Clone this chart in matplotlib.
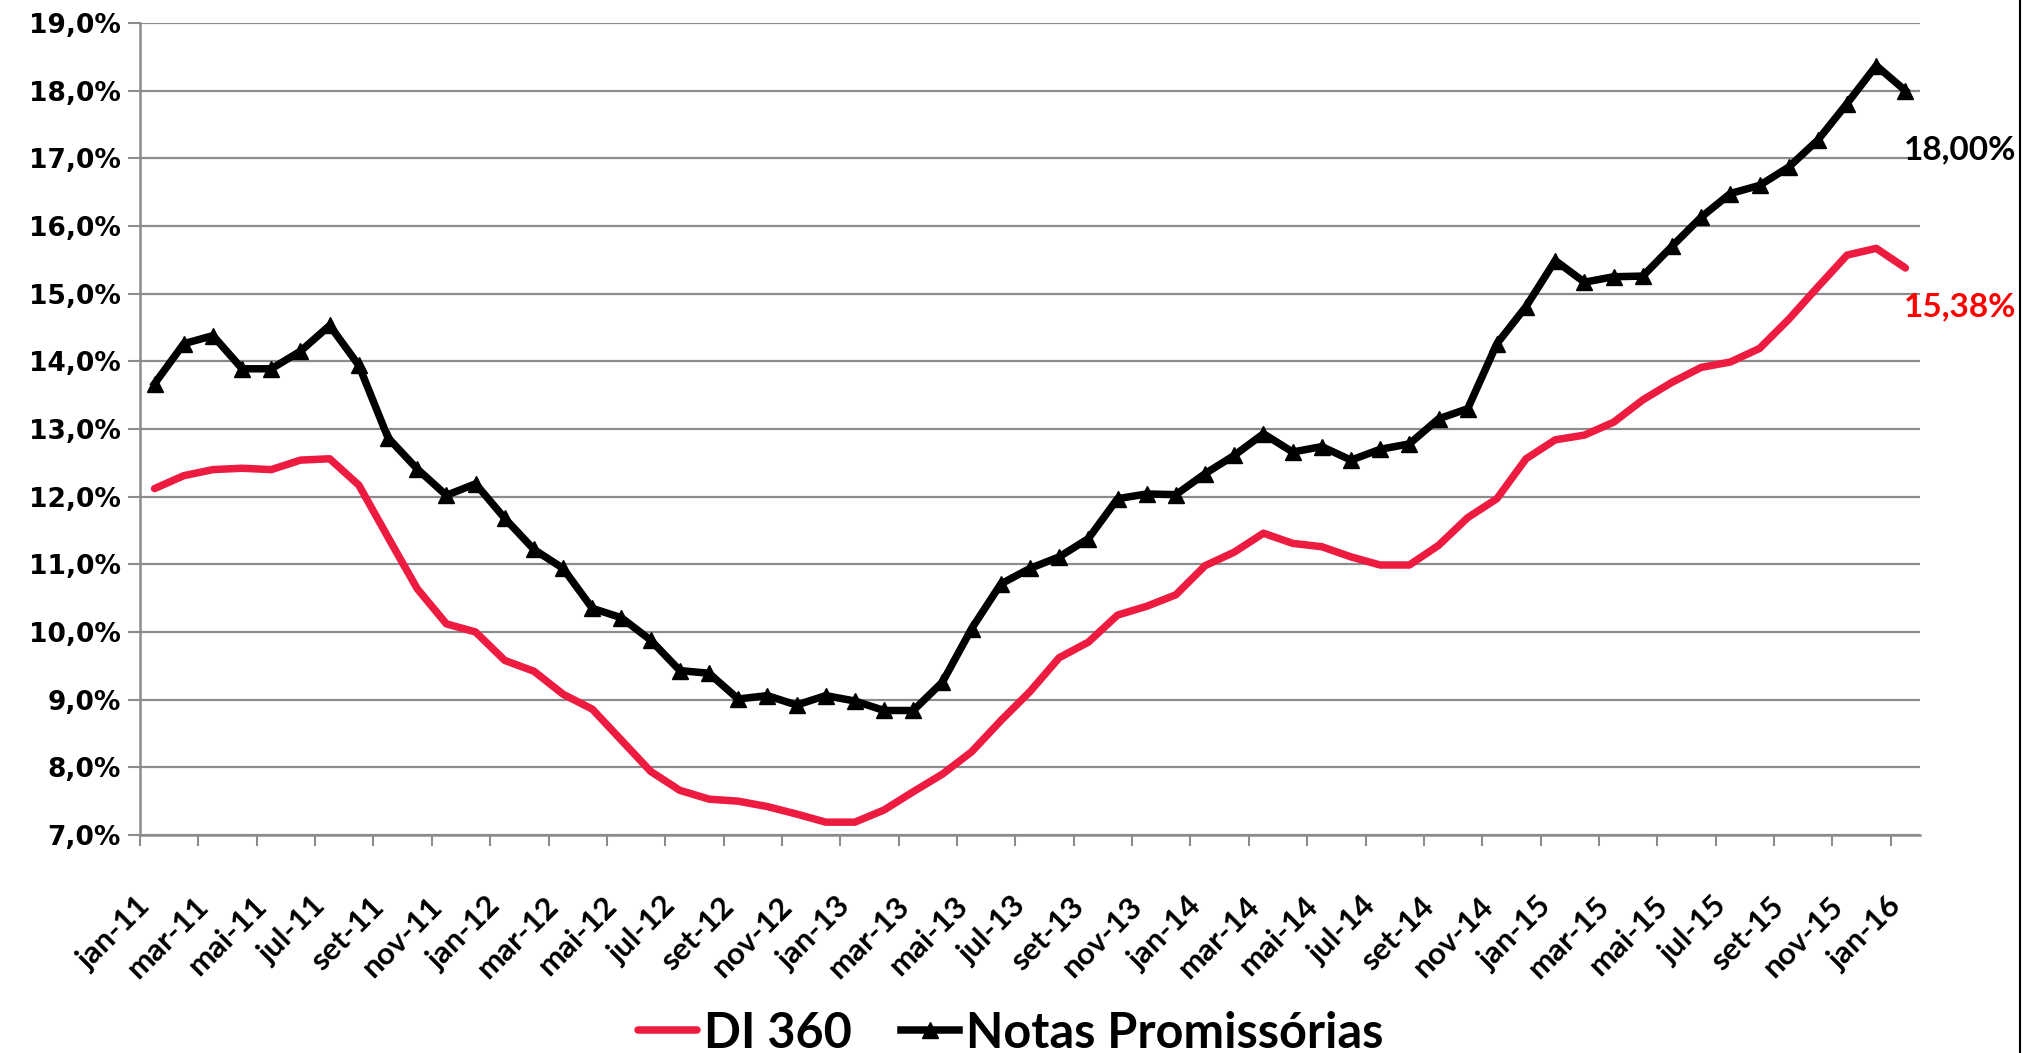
import numpy as np
import matplotlib
matplotlib.use("Agg")
import matplotlib.pyplot as plt
from matplotlib.lines import Line2D
from matplotlib.ticker import FixedLocator, FuncFormatter
from matplotlib.transforms import ScaledTranslation

# ---- data ----
month_abbr = ["jan", "fev", "mar", "abr", "mai", "jun", "jul", "ago", "set", "out", "nov", "dez"]
years = ["11", "12", "13", "14", "15", "16"]
categories = [f"{m}-{y}" for y in years for m in month_abbr][:61]   # jan-11 .. jan-16

di360 = [12.12, 12.31, 12.40, 12.42, 12.40, 12.54, 12.56, 12.17, 11.40, 10.64,
         10.12, 10.00, 9.58, 9.42, 9.08, 8.86, 8.40, 7.94, 7.66, 7.53,
         7.50, 7.42, 7.31, 7.19, 7.19, 7.37, 7.64, 7.90, 8.23, 8.69,
         9.12, 9.62, 9.85, 10.25, 10.38, 10.55, 10.98, 11.18, 11.46, 11.31,
         11.26, 11.11, 10.99, 10.99, 11.28, 11.69, 11.97, 12.56, 12.84, 12.91,
         13.10, 13.43, 13.69, 13.91, 13.99, 14.19, 14.62, 15.10, 15.57, 15.67,
         15.38]

notas = [13.67, 14.26, 14.38, 13.89, 13.89, 14.15, 14.53, 13.94, 12.87, 12.41,
         12.02, 12.19, 11.68, 11.22, 10.94, 10.35, 10.21, 9.88, 9.43, 9.39,
         9.01, 9.06, 8.92, 9.06, 8.98, 8.84, 8.84, 9.26, 10.05, 10.71,
         10.94, 11.11, 11.38, 11.97, 12.04, 12.03, 12.34, 12.61, 12.93, 12.66,
         12.74, 12.54, 12.70, 12.78, 13.15, 13.30, 14.26, 14.81, 15.49, 15.17,
         15.25, 15.26, 15.70, 16.13, 16.48, 16.60, 16.87, 17.27, 17.81, 18.37,
         18.00]

y_ticks = [7, 8, 9, 10, 11, 12, 13, 14, 15, 16, 17, 18, 19]
series_names = ["DI 360", "Notas Promissórias"]
end_labels = ["15,38%", "18,00%"]

# ---- figure ----
W, H = 2037, 1053
fig = plt.figure(figsize=(W / 100, H / 100), dpi=100)
ax = fig.add_axes([140 / W, 1 - 835 / H, 1780 / W, (835 - 23) / H])

x = np.arange(len(categories))
red = "#EC1B3F"
grid_c = "#8C8C8C"

ax.plot(x, di360, color=red, lw=5.4, solid_capstyle="round", solid_joinstyle="round",
        label=series_names[0], zorder=3)
ax.plot(x, notas, color="black", lw=5.4, marker="^", ms=11, solid_joinstyle="round",
        label=series_names[1], zorder=4)

ax.set_xlim(-0.5, len(categories) - 0.5)
ax.set_ylim(y_ticks[0], y_ticks[-1])

# y axis
ax.yaxis.set_major_locator(FixedLocator(y_ticks))
ax.yaxis.set_major_formatter(FuncFormatter(lambda v, p: f"{v:.1f}%".replace(".", ",")))
ax.tick_params(axis="y", which="major", length=9, width=1.5, color=grid_c, pad=5,
               labelsize=19)
for lab in ax.get_yticklabels():
    lab.set_fontweight("bold")
    lab.set_family("DejaVu Sans")
ax.yaxis.grid(True, color=grid_c, lw=1.6, zorder=0)
ax.set_axisbelow(True)

# x axis: ticks at boundaries every 2 months, labels on category centres
ax.xaxis.set_major_locator(FixedLocator(np.arange(-0.5, len(categories) - 1, 2)))
ax.xaxis.set_major_formatter(FuncFormatter(lambda v, p: ""))
ax.xaxis.set_minor_locator(FixedLocator(x[::2]))
ax.set_xticklabels([categories[i] for i in x[::2]], minor=True)
ax.tick_params(axis="x", which="major", length=8, width=1.5, color=grid_c, direction="out")
ax.tick_params(axis="x", which="minor", length=0, pad=56)
shift = ScaledTranslation(-9 / 100, 11 / 100, fig.dpi_scale_trans)
for tick in ax.xaxis.get_minor_ticks():
    lab = tick.label1
    lab.set_rotation(45)
    lab.set_rotation_mode("anchor")
    lab.set_ha("right")
    lab.set_va("center")
    lab.set_fontsize(22.5)
    lab.set_fontweight("bold")
    lab.set_family("Lato")
    lab.set_transform(lab.get_transform() + shift)

for s in ["top", "right"]:
    ax.spines[s].set_visible(False)
for s in ["left", "bottom"]:
    ax.spines[s].set_color(grid_c)
    ax.spines[s].set_linewidth(1.8)

# end-point labels
ax.annotate(end_labels[1], xy=(x[-1], notas[-1]), xytext=(-2, -59), textcoords="offset pixels",
            ha="left", va="center", fontsize=24, fontweight="bold", family="Lato", color="black")
ax.annotate(end_labels[0], xy=(x[-1], di360[-1]), xytext=(-2, -39), textcoords="offset pixels",
            ha="left", va="center", fontsize=24, fontweight="bold", family="Lato", color="#FF0000")

# legend
leg = fig.legend(loc="center", bbox_to_anchor=(1011 / W, 1 - 1033 / H), ncol=2, frameon=False,
                 prop={"family": "Lato", "weight": "bold", "size": 35},
                 handlelength=1.2, handletextpad=0.15, columnspacing=1.0, numpoints=1,
                 borderaxespad=0, borderpad=0)

# right frame edge
fig.add_artist(Line2D([2020 / W, 2020 / W], [0, 1], color="black", lw=1.5,
                      transform=fig.transFigure))

fig.savefig("out.png", dpi=100)
